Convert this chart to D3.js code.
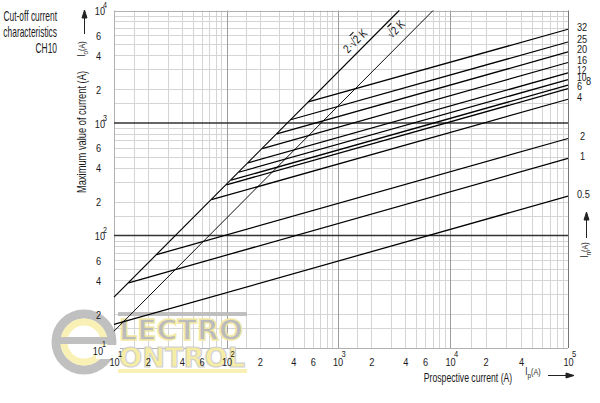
<!DOCTYPE html>
<html><head><meta charset="utf-8">
<script src="https://cdn.jsdelivr.net/npm/d3@7"></script>
<style>
body{margin:0;background:#fff}
svg{display:block}
text{font-family:"Liberation Sans",Arial,sans-serif;fill:#1a1a1a}
</style></head><body>
<svg id="c" width="600" height="403"></svg>
<script>
// ---- data ----
const ratings  = ["0.5","1","2","4","6","8","10","12","16","20","25","32"];
const startIp  = [10, 13.5, 23.9, 73.5, 99.8, 110, 129, 156, 210, 284, 378, 545];
const startI   = [16.2, 38, 67.6, 208, 282, 310, 365, 442, 593, 802, 1069, 1538];
const endIp    = [1e5, 1e5, 1e5, 1e5, 1e5, 1e5, 1e5, 1e5, 1e5, 1e5, 1e5, 1e5];
const endI     = [224, 484, 728, 1626, 2020, 2170, 2430, 2790, 3450, 4280, 5250, 6810];

const peakNames   = ["2\u00b7\u221a2 K", "\u221a2 K"];
const peakStartIp = [10, 10];
const peakStartI  = [28.3, 14.1];
const peakEndIp   = [3536, 7071];
const peakEndI    = [10000, 10000];
const peakLabelIp = [1650, 4000];

const xTickVals = [10,20,40,60,100,200,400,600,1000,2000,4000,6000,10000,20000,40000,100000];
const yTickVals = [10,20,40,60,100,200,400,600,1000,2000,4000,6000,10000];
const gridMant  = [1.5,2,3,4,5,6,7,8,9];
const titleLines = ["Cut-off current","characteristics","CH10"];
const xTitle = "Prospective current (A)";
const yTitle = "Maximum value of current (A)";

// ---- drawing ----
const svg = d3.select("#c");
const x = d3.scaleLog().domain([10,100,1000,10000,100000]).range([114,226.5,337.5,450,568]);
const y = d3.scaleLog().domain([10,1e4]).range([348,10.5]);
const X0=x(10), X1=x(1e5), Y0=y(10), Y1=y(1e4);
const px = v => Math.round(v)+0.5;
const isDec = v => Math.abs(Math.log10(v)-Math.round(Math.log10(v)))<1e-9;
const mant = v => Math.round(v/Math.pow(10,Math.floor(Math.log10(v)+1e-9)));

const grid = svg.append("g");
const xs=[], ys=[];
[10,100,1000,10000].forEach(d=>gridMant.forEach(m=>xs.push(d*m)));
[10,100,1000].forEach(d=>gridMant.forEach(m=>ys.push(d*m)));
grid.selectAll(".vx").data(xs).join("line")
  .attr("x1",d=>px(x(d))).attr("x2",d=>px(x(d))).attr("y1",Y1).attr("y2",Y0)
  .attr("stroke","#d4d4d4").attr("stroke-width",1);
grid.selectAll(".hy").data(ys).join("line")
  .attr("y1",d=>px(y(d))).attr("y2",d=>px(y(d))).attr("x1",X0).attr("x2",X1)
  .attr("stroke","#d4d4d4").attr("stroke-width",1);
grid.selectAll(".dx").data([100,1000,10000]).join("line")
  .attr("x1",d=>px(x(d))).attr("x2",d=>px(x(d))).attr("y1",Y1).attr("y2",Y0)
  .attr("stroke","#9c9c9c").attr("stroke-width",1);
grid.append("line").attr("x1",px(X0)).attr("x2",px(X0)).attr("y1",Y1).attr("y2",Y0).attr("stroke","#b0b0b0");
grid.append("line").attr("x1",px(X1)).attr("x2",px(X1)).attr("y1",Y1).attr("y2",Y0).attr("stroke","#777");
grid.append("line").attr("x1",X0).attr("x2",X1).attr("y1",px(Y1)).attr("y2",px(Y1)).attr("stroke","#b0b0b0");
grid.append("line").attr("x1",X0).attr("x2",X1).attr("y1",px(Y0)).attr("y2",px(Y0)).attr("stroke","#b0b0b0");
grid.selectAll(".dy").data([100,1000]).join("line")
  .attr("y1",d=>y(d)).attr("y2",d=>y(d)).attr("x1",X0).attr("x2",X1)
  .attr("stroke","#333").attr("stroke-width",1.4);

// ---- watermark logo ----
const logo = svg.append("g").attr("opacity",0.95);
logo.append("circle").attr("cx",84).attr("cy",342).attr("r",28).attr("fill","none").attr("stroke","#bdbdbd").attr("stroke-width",9);
logo.append("circle").attr("cx",84).attr("cy",342).attr("r",20).attr("fill","none").attr("stroke","#f8f0b0").attr("stroke-width",7);
logo.append("rect").attr("x",96).attr("y",345).attr("width",24).attr("height",14).attr("fill","#fff");
logo.append("rect").attr("x",58).attr("y",337).attr("width",58).attr("height",7).attr("fill","#bdbdbd");
logo.append("rect").attr("x",118).attr("y",312).attr("width",129).attr("height",4).attr("fill","#bdbdbd");
logo.append("rect").attr("x",118).attr("y",369).attr("width",129).attr("height",4).attr("fill","#f8f0b0");
logo.append("text").attr("x",119).attr("y",340).attr("textLength",124).attr("lengthAdjust","spacingAndGlyphs")
  .style("font-family","DejaVu Sans").style("font-weight","bold").style("font-size","29px")
  .style("fill","#b8b8b8").style("stroke","#f3e8a0").style("stroke-width",1.5).text("LECTRO");
logo.append("text").attr("x",119).attr("y",367).attr("textLength",126).attr("lengthAdjust","spacingAndGlyphs")
  .style("font-family","DejaVu Sans").style("font-weight","bold").style("font-size","27px")
  .style("fill","#f6ed9e").style("stroke","#cfcfcf").style("stroke-width",1.2).text("ONTROL");

// ---- peak lines ----
const lines = svg.append("g");
peakNames.forEach((n,i)=>{
  lines.append("line")
    .attr("x1",x(peakStartIp[i])).attr("y1",y(peakStartI[i]))
    .attr("x2",x(peakEndIp[i])).attr("y2",y(peakEndI[i]))
    .attr("stroke","#000").attr("stroke-width",i===0?1.15:0.95);
});
// ---- fuse lines ----
ratings.forEach((r,i)=>{
  lines.append("line")
    .attr("x1",x(startIp[i])).attr("y1",y(startI[i]))
    .attr("x2",x(endIp[i])).attr("y2",y(endI[i]))
    .attr("stroke","#000").attr("stroke-width",1.25);
});

// ---- peak labels ----
peakNames.forEach((n,i)=>{
  const ratio = peakEndI[i]/peakEndIp[i];
  const cx = x(peakLabelIp[i]), cy = y(peakLabelIp[i]*ratio);
  const off = i===0?9.5:13;
  const g = svg.append("g").attr("transform",`translate(${cx-off*0.707},${cy-off*0.707}) rotate(-45) scale(0.8,1)`);
  const t = g.append("text").attr("text-anchor","middle").attr("y",4).style("font-size","12px");
  if(i===0){ t.append("tspan").text("2\u00b7\u221a"); }
  else { t.append("tspan").text("\u221a"); }
  t.append("tspan").style("text-decoration","overline").text("2");
  t.append("tspan").text(" K");
});

// ---- fuse labels ----
ratings.forEach((r,i)=>{
  const ly = y(endI[i]) - 2.5;
  const lx = r==="8" ? 586 : (r==="1"||r==="2" ? 580 : 577);
  const ldy = r==="8" ? -2 : 0;
  svg.append("g").attr("transform",`translate(${lx},${ly+4+ldy}) scale(0.8,1)`)
    .append("text").style("font-size", (r==="12"||r==="10")?"10.5px":"11.5px").text(r);
});

// ---- axes ----
const xa = svg.append("g").attr("transform",`translate(0,${Y0})`)
  .call(d3.axisBottom(x).tickValues(xTickVals).tickSize(0).tickFormat(""));
xa.select(".domain").remove();
xa.selectAll(".tick").each(function(v){
  const g=d3.select(this); g.selectAll("text").remove();
  if(isDec(v)){
    g.append("g").attr("transform","translate(0,18) scale(0.8,1)").append("text")
      .attr("text-anchor","middle").style("font-size","11.5px").text("10");
    g.append("g").attr("transform","translate(5.5,9) scale(0.8,1)").append("text")
      .style("font-size","9.5px").text(Math.round(Math.log10(v)));
  } else {
    g.append("g").attr("transform","translate(0,18) scale(0.8,1)").append("text")
      .attr("text-anchor","middle").style("font-size","11.5px").text(mant(v));
  }
});
const ya = svg.append("g").attr("transform",`translate(${X0},0)`)
  .call(d3.axisLeft(y).tickValues(yTickVals).tickSize(0).tickFormat(""));
ya.select(".domain").remove();
ya.selectAll(".tick").each(function(v){
  const g=d3.select(this); g.selectAll("text").remove();
  if(isDec(v)){
    const e=Math.round(Math.log10(v));
    g.append("g").attr("transform",`translate(${e===1?-11:-9},${e===1?6:4}) scale(0.8,1)`).append("text")
      .attr("text-anchor","end").style("font-size","11.5px").text("10");
    g.append("g").attr("transform",`translate(${e===1?-8:-7},${e===1?-2:-3}) scale(0.8,1)`).append("text")
      .style("font-size","9px").text(e);
  } else {
    g.append("g").attr("transform","translate(-13,4) scale(0.8,1)").append("text")
      .attr("text-anchor","end").style("font-size","11.5px").text(mant(v));
  }
});

// ---- titles ----
titleLines.forEach((t,i)=>{
  svg.append("g").attr("transform",`translate(57,${21+i*16}) scale(0.6,1)`)
    .append("text").attr("text-anchor","end").style("font-size","14px").text(t);
});
svg.append("g").attr("transform","translate(86,132) rotate(-90) scale(0.69,1)")
  .append("text").attr("text-anchor","middle").style("font-size","13.5px").text(yTitle);
svg.append("g").attr("transform","translate(468,382) scale(0.64,1)")
  .append("text").attr("text-anchor","middle").style("font-size","13.5px").text(xTitle);

// unit labels with arrows
function unitLabel(tx,ty,rot,main,sub){
  const g=svg.append("g").attr("transform",`translate(${tx},${ty}) rotate(${rot}) scale(0.8,1)`);
  const t=g.append("text").attr("text-anchor","middle").style("font-size","10px");
  t.append("tspan").text(main);
  t.append("tspan").attr("dy",3).style("font-size","8px").text(sub);
  t.append("tspan").attr("dy",-3).style("font-size","9px").text("(A)");
}
unitLabel(533,375,0,"I","p");
unitLabel(85,49,-90,"I","o");
unitLabel(588,250,-90,"I","n");
const arr = svg.append("g").attr("stroke","#222").attr("fill","#222");
arr.append("line").attr("x1",548).attr("x2",568).attr("y1",375.5).attr("y2",375.5);
arr.append("path").attr("d","M574,375.5 L566,373 L566,378 Z");
arr.append("line").attr("x1",84.5).attr("x2",84.5).attr("y1",34).attr("y2",16);
arr.append("path").attr("d","M84.5,10 L82,18 L87,18 Z");
arr.append("line").attr("x1",586.5).attr("x2",586.5).attr("y1",238).attr("y2",218);
arr.append("path").attr("d","M586.5,212 L584,220 L589,220 Z");
</script>
</body></html>
